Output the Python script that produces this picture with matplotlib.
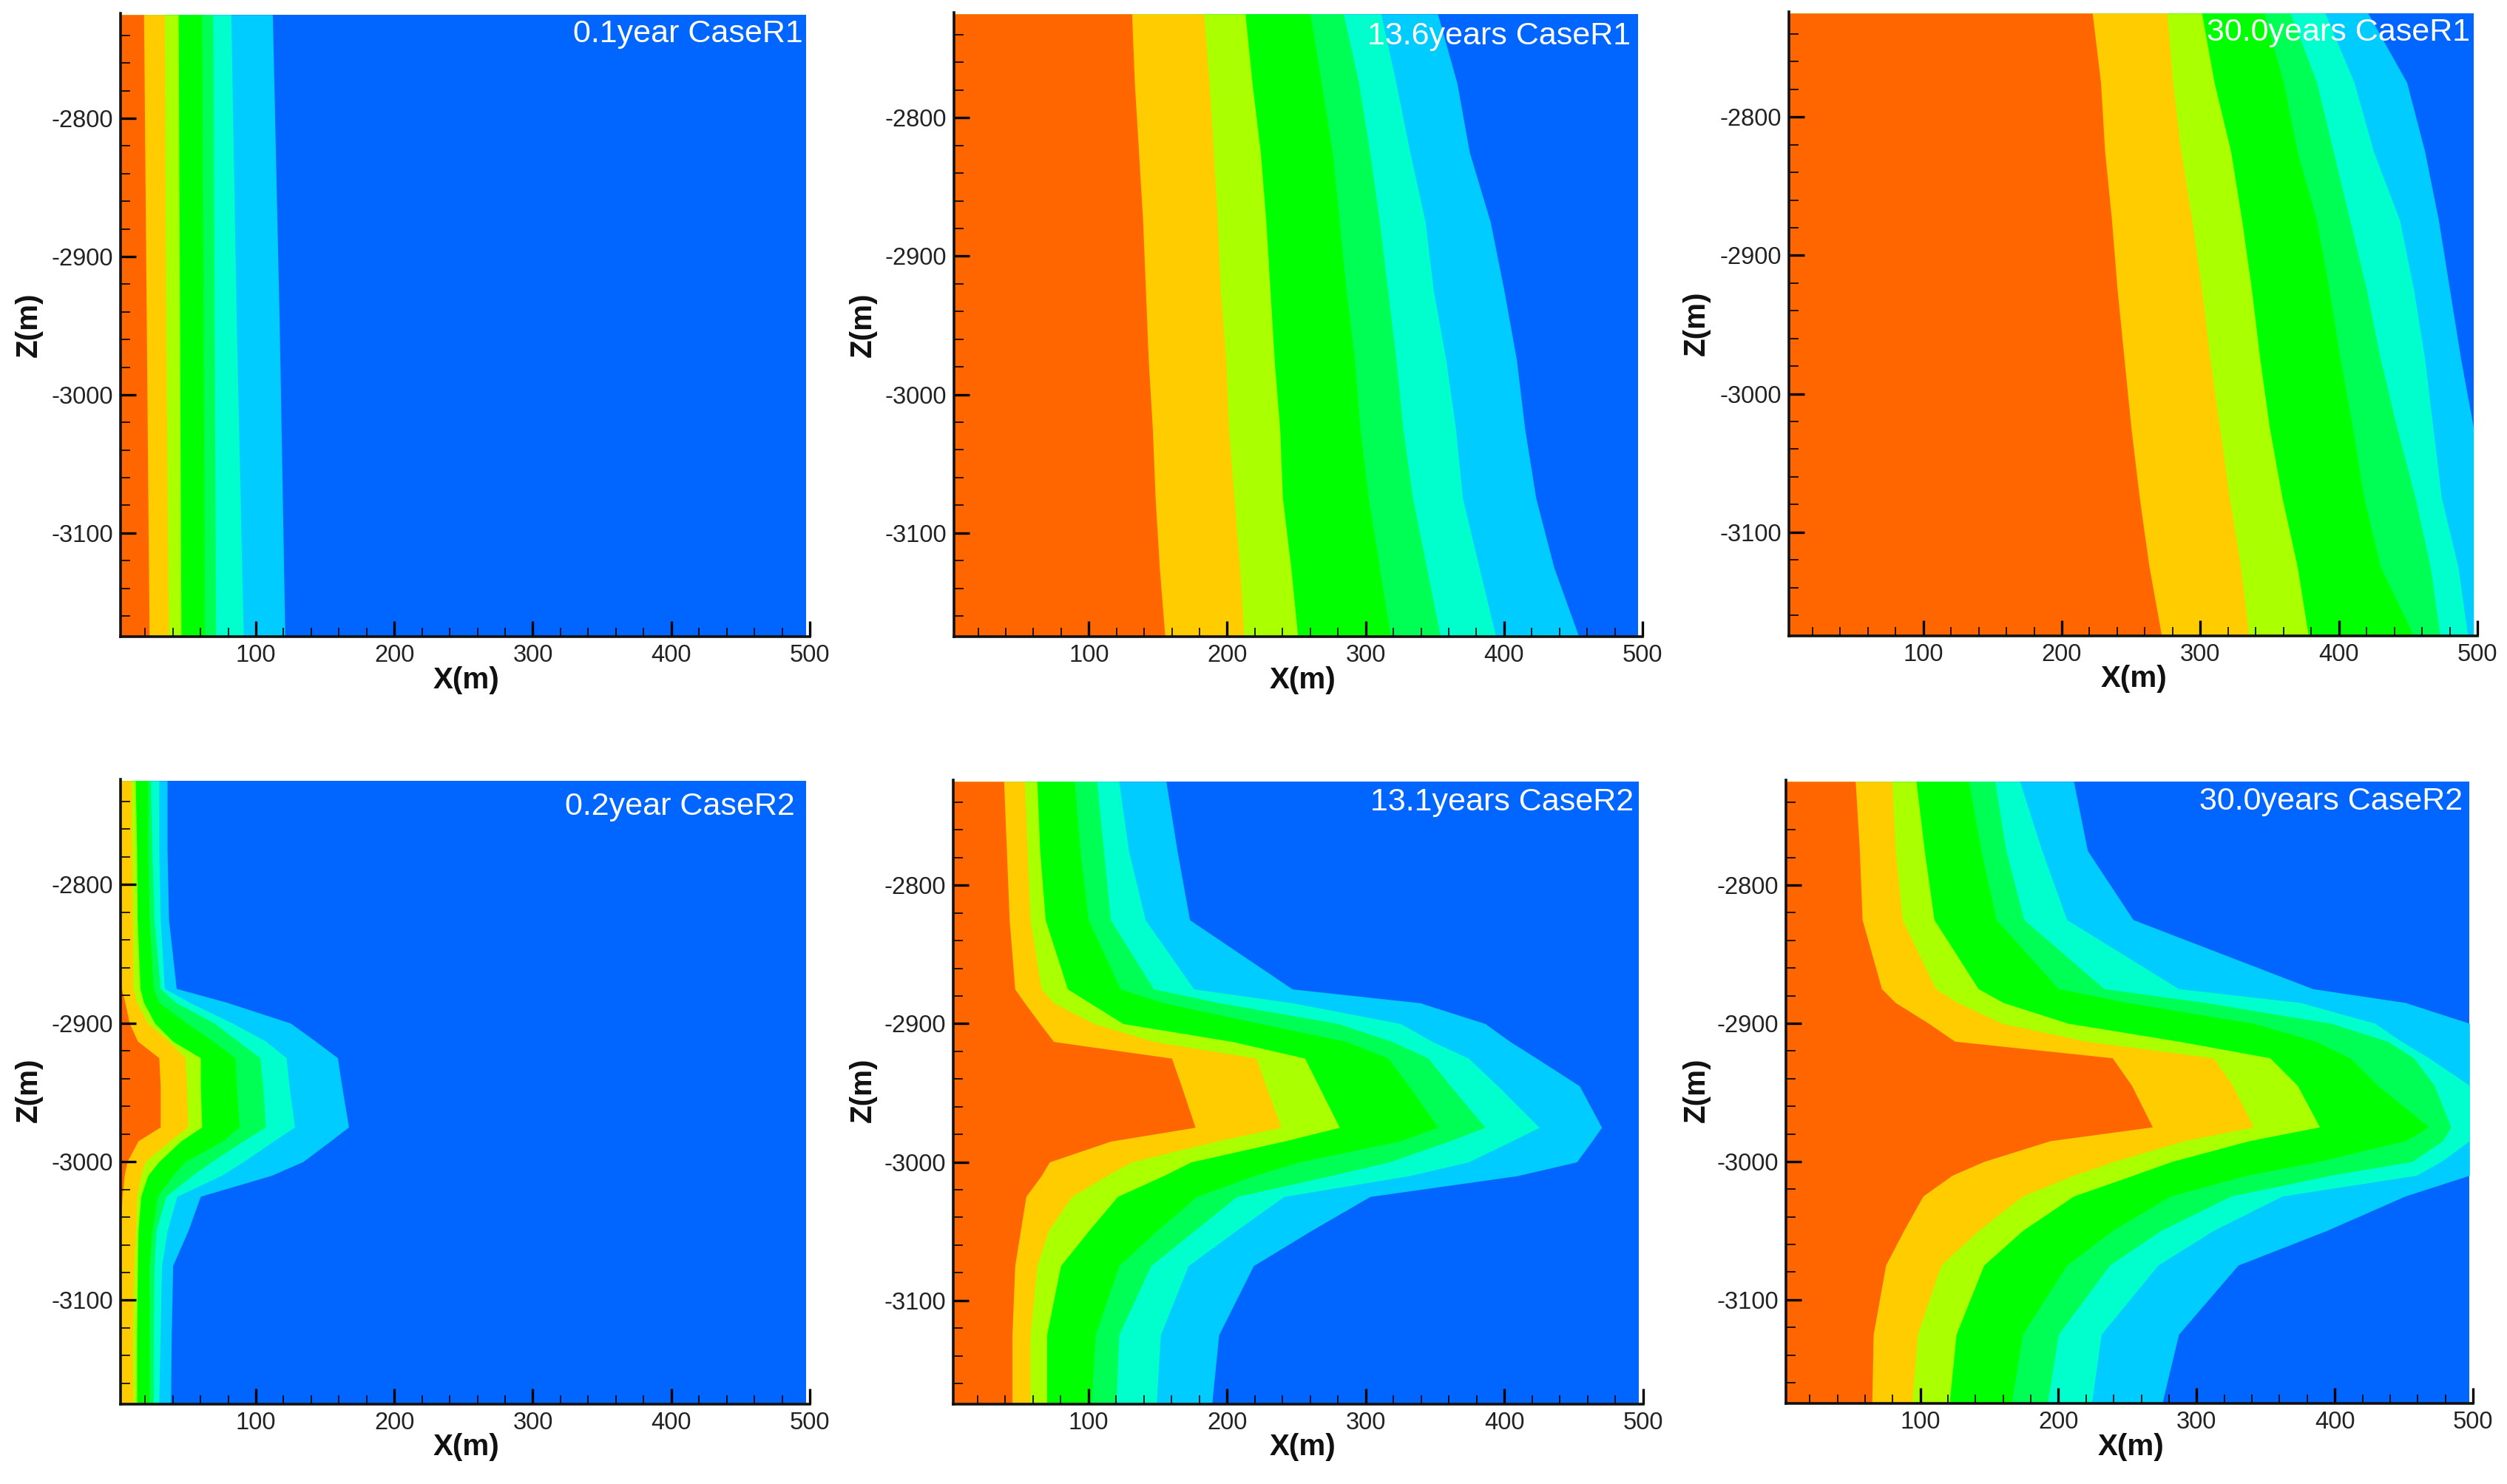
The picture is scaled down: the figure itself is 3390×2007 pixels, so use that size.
import matplotlib
matplotlib.use("Agg")
import matplotlib.pyplot as plt
from matplotlib.ticker import MultipleLocator
import numpy as np

plt.rcParams['font.family'] = ['Liberation Sans', 'DejaVu Sans']
plt.rcParams['axes.unicode_minus'] = False

W, H = 3390, 2007

# contour colours, outermost (far field) first
colors = ['#0066FF', '#00CCFF', '#00FFCC', '#00FF55', '#00FF00', '#AAFF00', '#FFCC00', '#FF6600']

z_r1_early = [-2725, -2950, -3175]
z_r1 = [-2725, -2775, -2825, -2875, -2925, -2975, -3025, -3075, -3125, -3175]
z_r2 = [-2725, -2775, -2825, -2875, -2885, -2900, -2913, -2925, -2945, -2975, -2985,
        -3000, -3010, -3025, -3050, -3075, -3125, -3175]

# each row is one depth, each column the x (m) of one contour front, hot side first
fronts_r1_01 = [
    [19, 34, 44, 61, 69, 82, 112],
    [21, 35, 45, 62, 70, 86, 117],
    [23, 37, 46, 63, 71, 91, 121],
]
fronts_r1_136 = [
    [131, 183, 213, 260, 284, 311, 352],
    [133, 187, 218, 268, 295, 322, 366],
    [136, 190, 224, 276, 303, 332, 375],
    [139, 193, 228, 281, 310, 343, 390],
    [141, 195, 231, 286, 316, 349, 400],
    [143, 199, 234, 292, 322, 358, 409],
    [146, 201, 238, 296, 327, 365, 415],
    [148, 205, 240, 302, 334, 370, 423],
    [151, 209, 246, 310, 344, 382, 436],
    [155, 212, 251, 318, 354, 394, 454],
]
fronts_r1_300 = [
    [222, 276, 301, 346, 365, 390, 421],
    [228, 280, 310, 360, 384, 411, 449],
    [231, 286, 322, 370, 396, 425, 462],
    [236, 294, 330, 384, 408, 444, 472],
    [240, 301, 337, 393, 420, 454, 480],
    [245, 307, 343, 401, 430, 462, 488],
    [250, 314, 350, 410, 442, 468, 501],
    [256, 321, 359, 418, 455, 474, 560],
    [263, 329, 370, 430, 466, 486, 560],
    [272, 335, 378, 454, 473, 493, 560],
]
fronts_r2_02 = [
    [2, 10, 13, 22, 24, 30, 36],
    [2, 10.5, 14, 22, 25, 30, 36],
    [2, 11, 14.4, 23, 26.5, 31, 37],
    [3, 11.4, 16.4, 26, 31, 34, 42.6],
    [5.5, 14, 19, 30, 42, 52, 79],
    [8.7, 22, 27, 50, 70, 83, 125],
    [14.6, 37, 40, 69, 87, 107, 143],
    [30, 49, 60, 85, 103, 122, 159],
    [31, 50, 60, 86, 105, 124, 162],
    [31, 51, 61, 88, 107, 128, 167],
    [15, 38, 46, 76, 91, 113, 154],
    [7, 20, 30, 49, 68, 91, 134],
    [5, 17, 22, 40, 54, 75, 111],
    [3.5, 14, 17, 29, 35, 43, 60],
    [2, 13, 15, 25, 28, 36, 51],
    [2, 12, 14.6, 23, 26.5, 32, 40],
    [2, 11, 14, 23, 26, 31, 39],
    [2, 11, 14, 23, 26, 30, 38.5],
]
fronts_r2_131 = [
    [39, 54, 63, 90, 106, 122, 156],
    [41, 56, 65, 94, 111, 129, 164],
    [43, 58, 69, 100, 116, 141, 173],
    [47, 66, 85, 123, 147, 176, 247],
    [54, 75, 101, 154, 194, 247, 339],
    [65, 104, 125, 224, 280, 325, 386],
    [75, 147, 204, 286, 319, 348, 404],
    [160, 221, 256, 316, 345, 374, 423],
    [167, 228, 266, 331, 361, 395, 454],
    [177, 239, 281, 352, 386, 425, 470],
    [116, 192, 241, 324, 360, 405, 463],
    [72, 131, 174, 252, 317, 374, 452],
    [66, 113, 154, 219, 274, 331, 409],
    [55, 88, 121, 178, 207, 241, 303],
    [51, 71, 100, 149, 176, 206, 260],
    [47, 63, 80, 122, 145, 172, 219],
    [45, 58, 70, 105, 122, 152, 194],
    [45, 58, 70, 102, 120, 149, 189],
]
fronts_r2_300 = [
    [53, 79.5, 97, 135, 154, 172, 211],
    [56, 82, 103, 144, 162, 188, 221],
    [58, 87, 110, 155, 175, 206, 254],
    [72, 111, 142, 200, 233, 287, 384],
    [82, 127, 160, 250, 306, 375, 451],
    [106, 159, 207, 341, 397, 429, 515],
    [125, 220, 287, 386, 438, 448, 575],
    [239, 312, 353, 411, 457, 468, 575],
    [253, 326, 373, 431, 472, 498, 575],
    [268, 341, 389, 468, 484, 515, 575],
    [194, 291, 338, 451, 478, 504, 575],
    [146, 240, 282, 388, 456, 477, 575],
    [123, 211, 254, 336, 397, 459, 525],
    [102, 174, 211, 281, 325, 362, 451],
    [88, 142, 174, 239, 274, 312, 394],
    [75, 115, 146, 206, 237, 272, 330],
    [66, 98, 126, 174, 200, 231, 287],
    [65, 94, 121, 166, 192, 224, 275],
]

titles = ['0.1year CaseR1', '13.6years CaseR1', '30.0years CaseR1',
          '0.2year CaseR2', '13.1years CaseR2', '30.0years CaseR2']
depths = [z_r1_early, z_r1, z_r1, z_r2, z_r2, z_r2]
fronts = [fronts_r1_01, fronts_r1_136, fronts_r1_300, fronts_r2_02, fronts_r2_131, fronts_r2_300]

# axes box in pixels: left, x=500 position, top, bottom
boxes = [(163, 1095, 18, 861), (1290, 2221, 17, 861), (2419, 3350, 16, 860),
         (163, 1095, 1054, 1899), (1289, 2222, 1055, 1899), (2415, 3344, 1055, 1898)]
x_left = [2.3, 2.6, 3.0, 2.3, 2.6, 2.8]
field_right = [497.3, 497, 497.2, 497.3, 497, 497.5]
# pixel positions of the title (right end, baseline) and of the axis labels
title_pos = [(1086, 57), (2205, 60), (3340, 55), (1075, 1102), (2209, 1096), (3330, 1095)]
xlabel_pos = [(631, 920), (1762, 920), (2886, 918), (631, 1957), (1762, 1957), (2882, 1957)]
zlabel_pos = [(39, 439), (1167, 439), (2294, 437), (39, 1474), (1167, 1474), (2294, 1474)]

fig = plt.figure(figsize=(W / 100, H / 100), dpi=100, facecolor='white')

for i in range(6):
    left, right, top, bottom = boxes[i]
    ax = fig.add_axes([left / W, 1 - bottom / H, (right - left) / W, (bottom - top) / H])
    z = np.array(depths[i])
    f = np.array(fronts[i])
    ax.fill_betweenx(z, 0, field_right[i], color=colors[0], lw=0)
    # paint from the far field inwards so neighbouring bands leave no seam
    for k in range(6, -1, -1):
        ax.fill_betweenx(z, 0, np.minimum(f[:, k], field_right[i]), color=colors[7 - k], lw=0)

    ax.set_xlim(x_left[i], 500)
    ax.set_ylim(-3175, -2724)
    ax.set_facecolor('white')
    for side in ['top', 'right']:
        ax.spines[side].set_visible(False)
    for side in ['left', 'bottom']:
        ax.spines[side].set_linewidth(2.6)
        ax.spines[side].set_color('#111111')
    ax.xaxis.set_major_locator(MultipleLocator(100))
    ax.xaxis.set_minor_locator(MultipleLocator(20))
    ax.yaxis.set_major_locator(MultipleLocator(100))
    ax.yaxis.set_minor_locator(MultipleLocator(20))
    ax.tick_params(which='major', direction='in', length=15, width=2.4, top=False, right=False,
                   labelsize=23.5, labelcolor='#222222', pad=7)
    ax.tick_params(which='minor', direction='in', length=9, width=1.2, top=False, right=False)
    for t in ax.get_xticklines() + ax.get_yticklines():
        t.set_clip_on(False)

    fig.text(title_pos[i][0] / W, 1 - title_pos[i][1] / H, titles[i], color='white',
             fontsize=31, ha='right', va='baseline')
    fig.text(xlabel_pos[i][0] / W, 1 - xlabel_pos[i][1] / H, 'X(m)', color='#111111',
             fontsize=29, fontweight='bold', ha='center', va='center')
    fig.text(zlabel_pos[i][0] / W, 1 - zlabel_pos[i][1] / H, 'Z(m)', color='#111111',
             fontsize=29, fontweight='bold', ha='center', va='center', rotation=90)

fig.savefig('out.png', dpi=100)
